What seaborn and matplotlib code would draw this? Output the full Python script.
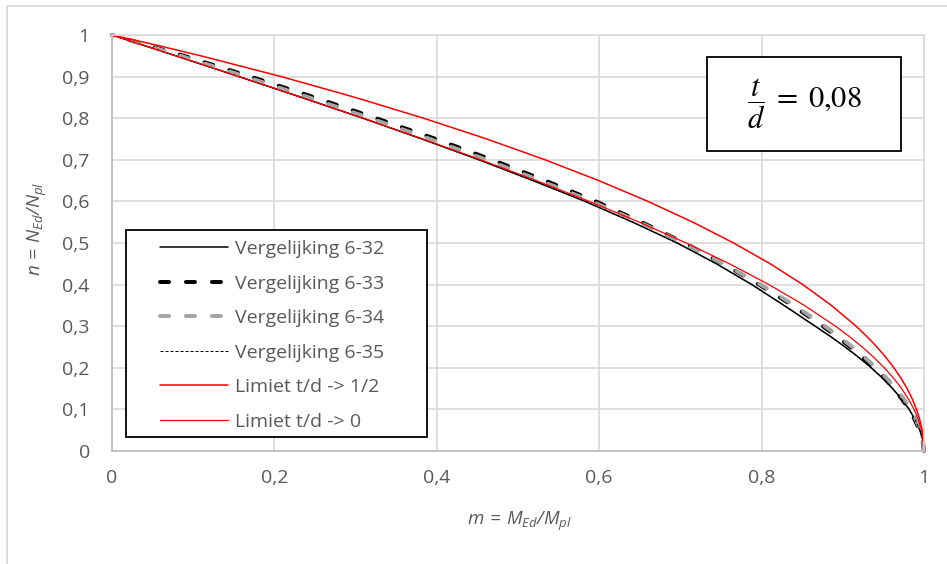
import numpy as np
import pandas as pd
import matplotlib
matplotlib.use('Agg')
import matplotlib.pyplot as plt
import seaborn as sns
from matplotlib.patches import Rectangle

# ---- data ----
n_vals = [0, 0.025, 0.05, 0.075, 0.1, 0.125, 0.15, 0.175, 0.2, 0.225, 0.25, 0.275,
          0.3, 0.35, 0.4, 0.45, 0.5, 0.55, 0.6, 0.65, 0.7, 0.75, 0.8, 0.85, 0.9,
          0.95, 0.975, 1.0]

m_eq632 = [1.0, 0.9987, 0.9949, 0.9891, 0.9817, 0.9723, 0.9614, 0.9490, 0.9351,
           0.9197, 0.9029, 0.8851, 0.8660, 0.8276, 0.7880, 0.7444, 0.6961, 0.6414,
           0.5828, 0.5185, 0.4520, 0.3817, 0.3090, 0.2334, 0.1564, 0.0785, 0.0393, 0.0]

m_eq633 = [1.0, 0.9982, 0.9944, 0.9886, 0.9817, 0.9728, 0.9629, 0.9515, 0.9386,
           0.9247, 0.9094, 0.8931, 0.8755, 0.8381, 0.7970, 0.7524, 0.7051, 0.6524,
           0.5958, 0.5335, 0.4680, 0.3987, 0.3250, 0.2494, 0.1704, 0.0885, 0.0443, 0.0]

m_eq634 = [1.0, 0.9987, 0.9954, 0.9901, 0.9837, 0.9753, 0.9654, 0.9540, 0.9411,
           0.9272, 0.9119, 0.8956, 0.8780, 0.8406, 0.7990, 0.7534, 0.7041, 0.6494,
           0.5908, 0.5275, 0.4610, 0.3917, 0.3180, 0.2424, 0.1644, 0.0845, 0.0423, 0.0]

m_eq635 = [1.0, 0.9987, 0.9949, 0.9891, 0.9817, 0.9723, 0.9614, 0.9490, 0.9351,
           0.9197, 0.9029, 0.8851, 0.8660, 0.8276, 0.7880, 0.7444, 0.6961, 0.6414,
           0.5828, 0.5185, 0.4520, 0.3817, 0.3090, 0.2334, 0.1564, 0.0785, 0.0393, 0.0]

m_lim_half = [1.0, 0.9994, 0.9977, 0.9948, 0.9907, 0.9855, 0.9792, 0.9716, 0.9629,
              0.9530, 0.9420, 0.9297, 0.9163, 0.8859, 0.8507, 0.8106, 0.7655, 0.7153,
              0.6600, 0.5994, 0.5333, 0.4615, 0.3836, 0.2994, 0.2084, 0.1092, 0.0562, 0.0]

m_lim_zero = [1.0, 0.9992, 0.9969, 0.9931, 0.9877, 0.9808, 0.9724, 0.9625, 0.9511,
              0.9382, 0.9239, 0.9081, 0.8910, 0.8526, 0.8090, 0.7604, 0.7071, 0.6494,
              0.5878, 0.5225, 0.4540, 0.3827, 0.3090, 0.2334, 0.1564, 0.0785, 0.0393, 0.0]

series_labels = ['Vergelijking 6-32', 'Vergelijking 6-33', 'Vergelijking 6-34',
                 'Vergelijking 6-35', 'Limiet t/d -> 1/2', 'Limiet t/d -> 0']
series_values = [m_eq632, m_eq633, m_eq634, m_eq635, m_lim_half, m_lim_zero]

x_ticks = [0, 0.2, 0.4, 0.6, 0.8, 1.0]
x_tick_labels = ['0', '0,2', '0,4', '0,6', '0,8', '1']
y_ticks = [0, 0.1, 0.2, 0.3, 0.4, 0.5, 0.6, 0.7, 0.8, 0.9, 1.0]
y_tick_labels = ['0', '0,1', '0,2', '0,3', '0,4', '0,5', '0,6', '0,7', '0,8', '0,9', '1']

x_label = r'$m\, =\, M_{Ed}/M_{pl}$'
y_label = r'$n\, =\, N_{Ed}/N_{pl}$'
box_text = r'$\dfrac{t}{d}\;=\;0{,}08$'

# ---- styling ----
sns.set_theme(style='white')
plt.rcParams['font.family'] = ['Open Sans', 'DejaVu Sans']
plt.rcParams['mathtext.fontset'] = 'custom'
plt.rcParams['mathtext.it'] = 'Open Sans:italic'
plt.rcParams['mathtext.rm'] = 'Open Sans:italic'
plt.rcParams['mathtext.bf'] = 'Open Sans:bold'
plt.rcParams['lines.scale_dashes'] = False

W, H = 947, 564
fig = plt.figure(figsize=(W / 100, H / 100), dpi=100)
fig.patch.set_facecolor('white')

def fx(px):
    return px / W

def fy(py):
    return 1 - py / H

ax = fig.add_axes([fx(112), fy(451), 812 / W, 416 / H])

styles = [
    dict(color='black', lw=1.1, dashes=None, cap='butt'),
    dict(color='black', lw=2.9, dashes=(6.5, 12.2), cap='round'),
    dict(color='#A5A5A5', lw=2.9, dashes=(6.5, 12.2), cap='round'),
    dict(color='black', lw=0.7, dashes=(2.2, 1.4), cap='butt'),
    dict(color='#FF0000', lw=1.1, dashes=None, cap='butt'),
    dict(color='#FF0000', lw=0.9, dashes=None, cap='butt'),
]

for lab, vals, st in zip(series_labels, series_values, styles):
    df = pd.DataFrame({'m': vals, 'n': n_vals})
    sns.lineplot(data=df, x='m', y='n', ax=ax, sort=False, estimator=None,
                 color=st['color'], linewidth=st['lw'], label=lab, legend=False)
    line = ax.lines[-1]
    if st['dashes'] is not None:
        line.set_dashes(st['dashes'])
        line.set_dash_capstyle(st['cap'])
    line.set_clip_on(False)

ax.set_xlim(0, 1)
ax.set_ylim(0, 1)
ax.set_xticks(x_ticks)
ax.set_xticklabels(x_tick_labels)
ax.set_yticks(y_ticks)
ax.set_yticklabels(y_tick_labels)
ax.tick_params(axis='both', length=0, labelsize=14, colors='#595959')
ax.tick_params(axis='x', pad=13)
ax.tick_params(axis='y', pad=16)
ax.grid(True, color='#D9D9D9', lw=1.2)
ax.set_axisbelow(True)
for s in ['left', 'bottom']:
    ax.spines[s].set_color('#BFBFBF')
    ax.spines[s].set_linewidth(1.3)
for s in ['top', 'right']:
    ax.spines[s].set_color('#D9D9D9')
    ax.spines[s].set_linewidth(1.2)

ax.set_xlabel(x_label, fontsize=13.5, color='#595959')
ax.set_ylabel(y_label, fontsize=13.5, color='#595959')
ax.xaxis.label.set_va('center')
ax.yaxis.label.set_va('center')
ax.xaxis.set_label_coords((519 - 112) / 812, (451 - 521) / 416)
ax.yaxis.set_label_coords((37 - 112) / 812, (451 - 229) / 416)

# outer chart border
fig.add_artist(Rectangle((fx(7), fy(575)), fx(960) - fx(7), fy(6) - fy(575),
                         transform=fig.transFigure, fill=False,
                         ec='#D9D9D9', lw=1.2))

# legend frame
ax.add_patch(Rectangle((fx(126), fy(437)), fx(427) - fx(126), fy(230) - fy(437),
                       transform=fig.transFigure, fc='white', ec='black',
                       lw=1.3, zorder=4, clip_on=False))
leg = ax.legend(ax.lines[:6], series_labels, loc='upper left',
                bbox_to_anchor=(fx(160), fy(240)), bbox_transform=fig.transFigure,
                frameon=False, borderpad=0, borderaxespad=0, handlelength=3.5,
                handletextpad=0.36, labelspacing=0.85, fontsize=14,
                labelcolor='#595959')
leg.set_zorder(5)

# t/d annotation box
ax.add_patch(Rectangle((fx(707), fy(151)), fx(901) - fx(707), fy(57) - fy(151),
                       transform=fig.transFigure, fc='white', ec='black',
                       lw=1.3, zorder=4, clip_on=False))
fig.text(fx(804), fy(104), box_text, ha='center', va='center', fontsize=22,
         color='black', math_fontfamily='stix', zorder=6)

fig.savefig('out.png', dpi=100)
